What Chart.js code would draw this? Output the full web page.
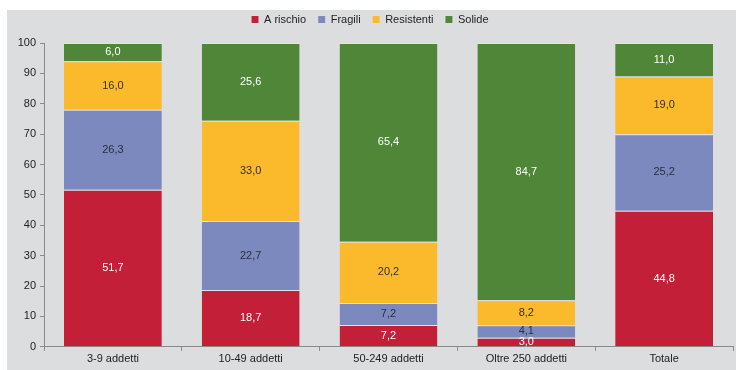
<!DOCTYPE html>
<html>
<head>
<meta charset="utf-8">
<script src="https://cdn.jsdelivr.net/npm/chart.js@4"></script>
<style>
  body { margin: 0; background: #fff; }
  #box { position: absolute; left: 7px; top: 10px; width: 729px; height: 360px; background: #dcdddf; }
</style>
</head>
<body>
<div id="box"><canvas id="myChart" width="729" height="360"></canvas></div>
<script>
const categorie = ["3-9 addetti", "10-49 addetti", "50-249 addetti", "Oltre 250 addetti", "Totale"];
const aRischio = [51.7, 18.7, 7.2, 3.0, 44.8];
const fragili = [26.3, 22.7, 7.2, 4.1, 25.2];
const resistenti = [16.0, 33.0, 20.2, 8.2, 19.0];
const solide = [6.0, 25.6, 65.4, 84.7, 11.0];
const yTicks = [0, 10, 20, 30, 40, 50, 60, 70, 80, 90, 100];

Chart.defaults.font.family = "'Liberation Sans', Arial, sans-serif";
Chart.defaults.font.size = 11;
Chart.defaults.color = "#333";

// etichette dentro le barre
const etichette = {
  id: "etichette",
  afterDatasetsDraw(chart) {
    const ctx = chart.ctx;
    ctx.save();
    ctx.font = "11px 'Liberation Sans', Arial, sans-serif";
    ctx.textAlign = "center";
    ctx.textBaseline = "middle";
    chart.data.datasets.forEach((ds, i) => {
      chart.getDatasetMeta(i).data.forEach((bar, j) => {
        const v = ds.data[j];
        const y = (bar.y + bar.base) / 2;
        ctx.fillStyle = ds.labelColor;
        ctx.fillText(v.toFixed(1).replace(".", ","), bar.x, y);
      });
    });
    ctx.restore();
  },
};

// legenda un po' piu' in alto
const spostaLegenda = {
  id: "spostaLegenda",
  beforeInit(chart) {
    const draw = chart.legend.draw;
    chart.legend.draw = function () {
      const c = this.ctx;
      c.save();
      c.translate(0, -8);
      draw.call(this);
      c.restore();
    };
  },
};

const serie = [
  { label: "A rischio", data: aRischio, backgroundColor: "#c41f38", labelColor: "#fff" },
  { label: "Fragili", data: fragili, backgroundColor: "#7b89bf", labelColor: "#2b2f3a" },
  { label: "Resistenti", data: resistenti, backgroundColor: "#fbb92c", labelColor: "#3a3020" },
  { label: "Solide", data: solide, backgroundColor: "#4f8638", labelColor: "#fff" },
];

const ctx = document.getElementById("myChart").getContext("2d");
new Chart(ctx, {
  type: "bar",
  data: {
    labels: categorie,
    datasets: serie.map((s) => ({
      ...s,
      borderColor: "rgba(255,255,255,0.2)",
      borderWidth: { top: 1, bottom: 0, left: 0, right: 0 },
      borderSkipped: false,
      barPercentage: 0.71,
      categoryPercentage: 1,
    })),
  },
  options: {
    responsive: false,
    animation: false,
    layout: { padding: { left: 0, right: 3, top: 0, bottom: 2 } },
    scales: {
      x: {
        stacked: true,
        grid: { display: true, drawOnChartArea: false, drawTicks: true, tickLength: 4, color: "#8a8a8a" },
        border: { color: "#8a8a8a", width: 1 },
        ticks: { padding: 2, color: "#222", font: { size: 11 } },
      },
      y: {
        stacked: true,
        min: 0,
        max: 100,
        afterBuildTicks: (axis) => { axis.ticks = yTicks.map((v) => ({ value: v })); },
        afterFit: (axis) => { axis.width = 37; },
        grid: { display: true, drawOnChartArea: false, drawTicks: true, tickLength: 4, color: "#8a8a8a" },
        border: { color: "#8a8a8a", width: 1 },
        ticks: { padding: 4, color: "#222", font: { size: 11 } },
      },
    },
    plugins: {
      legend: {
        position: "top",
        labels: { boxWidth: 7, boxHeight: 7, padding: 12, color: "#222", font: { size: 11 } },
      },
      tooltip: { enabled: false },
    },
  },
  plugins: [etichette, spostaLegenda],
});
</script>
</body>
</html>
